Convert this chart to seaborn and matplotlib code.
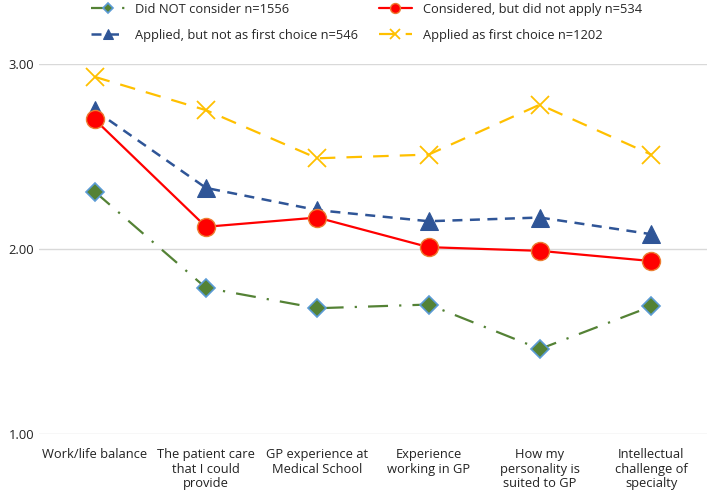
# -*- coding:utf-8 -*-

import numpy as np
import matplotlib
matplotlib.use("Agg")
import matplotlib.pyplot as plt
import seaborn as sns

# Data
categories = [
    "Work/life balance",
    "The patient care\nthat I could\nprovide",
    "GP experience at\nMedical School",
    "Experience\nworking in GP",
    "How my\npersonality is\nsuited to GP",
    "Intellectual\nchallenge of\nspecialty",
]
did_not_consider = [2.31, 1.79, 1.68, 1.70, 1.46, 1.69]
considered_not_applied = [2.70, 2.12, 2.17, 2.01, 1.99, 1.935]
applied_not_first = [2.75, 2.33, 2.21, 2.15, 2.17, 2.08]
applied_first = [2.93, 2.75, 2.49, 2.51, 2.78, 2.51]

series_names = [
    "Did NOT consider n=1556",
    "Applied, but not as first choice n=546",
    "Considered, but did not apply n=534",
    "Applied as first choice n=1202",
]

sns.set_style("white")
plt.rcParams["font.family"] = ["Open Sans", "DejaVu Sans"]
plt.rcParams["font.size"] = 9.3

fig = plt.figure(figsize=(7.09, 4.99), dpi=100)
ax = fig.add_axes([0.055, 0.130, 0.942, 0.742])

x = np.arange(len(categories))

styles = {
    series_names[0]: dict(color="#548235", linestyle=(0, (9, 5, 1, 5)), marker="D",
                          markersize=9, markerfacecolor="#548235",
                          markeredgecolor="#5B9BD5", markeredgewidth=1.2, linewidth=1.6),
    series_names[1]: dict(color="#2F5597", linestyle=(0, (4, 3)), marker="^",
                          markersize=13, markerfacecolor="#2F5597",
                          markeredgecolor="#2F5597", linewidth=1.8),
    series_names[2]: dict(color="#FF0000", linestyle="-", marker="o",
                          markersize=13, markerfacecolor="#FF0000",
                          markeredgecolor="#ED7D31", markeredgewidth=1.0, linewidth=1.6),
    series_names[3]: dict(color="#FFC000", linestyle=(0, (7, 5)), marker="x",
                          markersize=13, markeredgecolor="#FFC000",
                          markeredgewidth=1.3, linewidth=1.6),
}
values = {
    series_names[0]: did_not_consider,
    series_names[1]: applied_not_first,
    series_names[2]: considered_not_applied,
    series_names[3]: applied_first,
}

for name in series_names:
    sns.lineplot(x=x, y=values[name], ax=ax, label=name, **styles[name])

ax.set_ylim(1, 3)
ax.set_xlim(-0.5, len(categories) - 0.5)
ax.set_yticks([1, 2, 3])
ax.set_yticklabels([f"{v:.2f}" for v in [1, 2, 3]])
ax.set_xticks(x)
ax.set_xticklabels(categories, fontsize=9.3, linespacing=1.15)
ax.tick_params(axis="both", length=0, labelsize=9.3, colors="#222222")
ax.tick_params(axis="x", pad=10)
ax.yaxis.grid(True, color="#D9D9D9", linewidth=1)
for s in ax.spines.values():
    s.set_visible(False)

handles, labels = ax.get_legend_handles_labels()
ax.get_legend().remove()
fig.legend(handles, labels, ncol=2, loc="upper left", bbox_to_anchor=(0.112, 1.018),
           frameon=False, fontsize=9.3, columnspacing=1.6, handlelength=2.6,
           handletextpad=0.8, labelspacing=1.0, markerscale=0.55)

fig.savefig("out.png", dpi=100)
